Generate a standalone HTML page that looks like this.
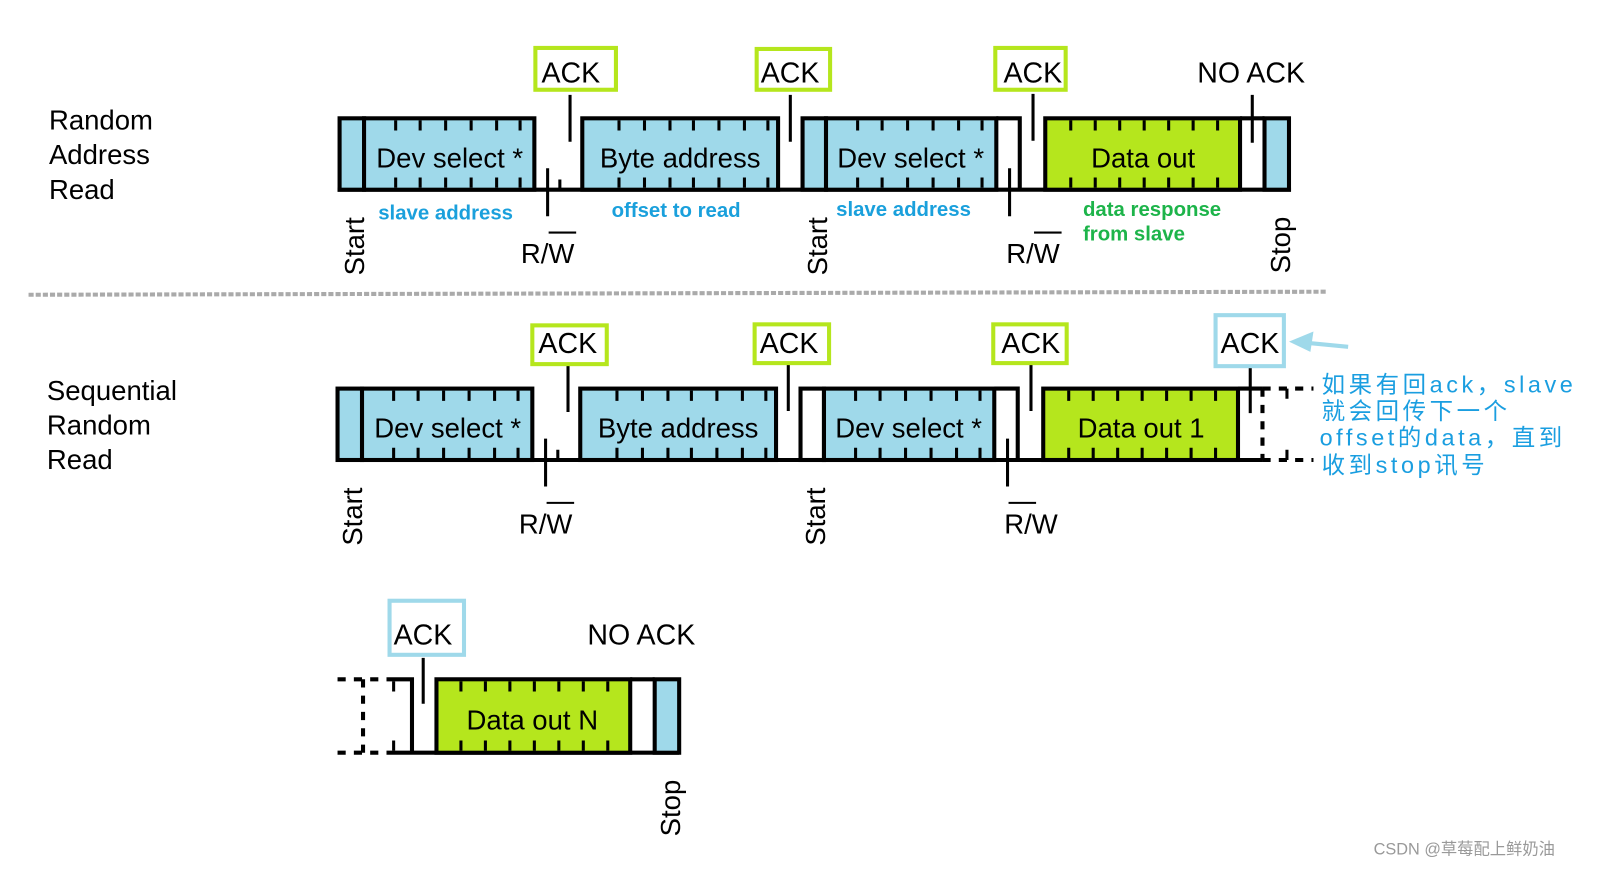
<!DOCTYPE html>
<html><head><meta charset="utf-8"><style>
html,body{margin:0;padding:0;background:#fff;width:1599px;height:869px;overflow:hidden}
svg{display:block}
text{font-family:"Liberation Sans",Arial,sans-serif}
</style></head><body>
<svg width="1599" height="869" viewBox="0 0 1568 852" preserveAspectRatio="none" xmlns="http://www.w3.org/2000/svg">
<!-- ROW 1 -->
<g stroke="#000" stroke-width="4" fill="none">
<line x1="331" y1="186" x2="1266" y2="186"/>
<rect x="333" y="116" width="24" height="70" fill="#9fd9ea"/>
<rect x="357" y="116" width="167" height="70" fill="#9fd9ea"/>
<rect x="571" y="116" width="192" height="70" fill="#9fd9ea"/>
<rect x="787" y="116" width="23" height="70" fill="#9fd9ea"/>
<rect x="810" y="116" width="167" height="70" fill="#9fd9ea"/>
<polyline points="977,116 1000,116 1000,186"/>
<rect x="1025" y="116" width="191" height="70" fill="#b5e61d"/>
<line x1="1216" y1="116" x2="1240" y2="116"/>
<rect x="1240" y="116" width="24" height="70" fill="#9fd9ea"/>
</g>
<g stroke="#000" stroke-width="3">
<path d="M388 118v10M412 118v10M437 118v10M462 118v10M487 118v10M510 118v10M388 184v-10M412 184v-10M437 184v-10M462 184v-10M487 184v-10M510 184v-10"/>
<path d="M607 118v10M632 118v10M657 118v10M680 118v10M705 118v10M730 118v10M753 118v10M607 184v-10M632 184v-10M657 184v-10M680 184v-10M705 184v-10M730 184v-10M753 184v-10"/>
<path d="M841 118v10M865 118v10M890 118v10M915 118v10M940 118v10M963 118v10M841 184v-10M865 184v-10M890 184v-10M915 184v-10M940 184v-10M963 184v-10"/>
<path d="M1050 118v10M1074 118v10M1098 118v10M1122 118v10M1146 118v10M1170 118v10M1194 118v10M1050 184v-10M1074 184v-10M1098 184v-10M1122 184v-10M1146 184v-10M1170 184v-10M1194 184v-10"/>
<path d="M537 165v47M549 186v-10M559 93v46M775 93v46M1013 92v46M1228 93v47M990 165v47"/>
</g>
<g stroke="#b5e61d" stroke-width="4" fill="#fff">
<rect x="525" y="47" width="79" height="41"/>
<rect x="742" y="48" width="72" height="40"/>
<rect x="976" y="47" width="69" height="41"/>
</g>
<g font-size="28" fill="#000">
<text x="531" y="81">ACK</text><text x="746" y="81">ACK</text><text x="984" y="81">ACK</text>
<text x="1174" y="81">NO ACK</text>
</g>
<g font-size="27" fill="#000">
<text x="48" y="127">Random</text><text x="48" y="161">Address</text><text x="48" y="195">Read</text>
</g>
<g font-size="27" text-anchor="middle">
<text x="441" y="164">Dev select *</text>
<text x="667" y="164">Byte address</text>
<text x="893" y="164">Dev select *</text>
<text x="1121" y="164">Data out</text>
</g>
<g font-size="27">
<text x="537" y="258" text-anchor="middle">R/W</text>
<text x="1013" y="258" text-anchor="middle">R/W</text>
<text transform="translate(357,270) rotate(-90)">Start</text>
<text transform="translate(811,270) rotate(-90)">Start</text>
<text transform="translate(1265,268) rotate(-90)">Stop</text>
</g>
<path d="M538 228h27M1014 228h27" stroke="#000" stroke-width="2"/>
<g font-size="20" font-weight="bold">
<text x="437" y="215" fill="#1aa0dc" text-anchor="middle" font-family="'DejaVu Sans',sans-serif">slave address</text>
<text x="663" y="213" fill="#1aa0dc" text-anchor="middle" font-family="'DejaVu Sans',sans-serif">offset to read</text>
<text x="886" y="212" fill="#1aa0dc" text-anchor="middle" font-family="'DejaVu Sans',sans-serif">slave address</text>
<text x="1062" y="212" fill="#1db44a" font-family="'DejaVu Sans',sans-serif">data response</text>
<text x="1062" y="236" fill="#1db44a" font-family="'DejaVu Sans',sans-serif">from slave</text>
</g>
<line x1="28" y1="289" x2="1302" y2="286" stroke="#aaa" stroke-width="4" stroke-dasharray="5,2"/>

<!-- ROW 2 -->
<g stroke="#000" stroke-width="4" fill="none">
<line x1="329" y1="451" x2="1238" y2="451"/>
<rect x="331" y="381" width="24" height="70" fill="#9fd9ea"/>
<rect x="355" y="381" width="167" height="70" fill="#9fd9ea"/>
<rect x="569" y="381" width="192" height="70" fill="#9fd9ea"/>
<rect x="785" y="381" width="23" height="70" fill="#fff"/>
<rect x="808" y="381" width="167" height="70" fill="#9fd9ea"/>
<polyline points="975,381 998,381 998,451"/>
<rect x="1023" y="381" width="191" height="70" fill="#b5e61d"/>
<line x1="1214" y1="381" x2="1238" y2="381"/>
<g stroke-dasharray="8,8"><line x1="1238" y1="381" x2="1288" y2="381"/><line x1="1238" y1="451" x2="1288" y2="451"/><line x1="1238" y1="381" x2="1238" y2="451"/></g>
</g>
<g stroke="#000" stroke-width="3">
<path d="M386 383v10M410 383v10M435 383v10M460 383v10M485 383v10M508 383v10M386 449v-10M410 449v-10M435 449v-10M460 449v-10M485 449v-10M508 449v-10"/>
<path d="M605 383v10M630 383v10M655 383v10M678 383v10M703 383v10M728 383v10M751 383v10M605 449v-10M630 449v-10M655 449v-10M678 449v-10M703 449v-10M728 449v-10M751 449v-10"/>
<path d="M839 383v10M863 383v10M888 383v10M913 383v10M938 383v10M961 383v10M839 449v-10M863 449v-10M888 449v-10M913 449v-10M938 449v-10M961 449v-10"/>
<path d="M1048 383v10M1072 383v10M1096 383v10M1120 383v10M1144 383v10M1168 383v10M1192 383v10M1048 449v-10M1072 449v-10M1096 449v-10M1120 449v-10M1144 449v-10M1168 449v-10M1192 449v-10"/>
<path d="M535 430v47M547 451v-10M557 358v46M773 357v46M1011 357v46M1226 360v45M988 430v47"/>
<path d="M1262 381v10M1262 451v-10"/>
</g>
<g stroke="#b5e61d" stroke-width="4" fill="#fff">
<rect x="522" y="319" width="73" height="38"/>
<rect x="740" y="318" width="73" height="38"/>
<rect x="974" y="318" width="72" height="38"/>
</g>
<rect x="1192" y="309" width="67" height="50" stroke="#9fd9ea" stroke-width="4" fill="#fff"/>
<g font-size="28">
<text x="528" y="346">ACK</text><text x="745" y="346">ACK</text><text x="982" y="346">ACK</text><text x="1197" y="346">ACK</text>
</g>
<g font-size="27">
<text x="46" y="392">Sequential</text><text x="46" y="426">Random</text><text x="46" y="460">Read</text>
</g>
<g font-size="27" text-anchor="middle">
<text x="439" y="429">Dev select *</text>
<text x="665" y="429">Byte address</text>
<text x="891" y="429">Dev select *</text>
<text x="1119" y="429">Data out 1</text>
</g>
<g font-size="27">
<text x="535" y="523" text-anchor="middle">R/W</text>
<text x="1011" y="523" text-anchor="middle">R/W</text>
<text transform="translate(355,535) rotate(-90)">Start</text>
<text transform="translate(809,535) rotate(-90)">Start</text>
</g>
<path d="M536 493h27M989 493h27" stroke="#000" stroke-width="2"/>
<path d="M1322 340L1280 336" stroke="#9fd9ea" stroke-width="4"/>
<path d="M1264 335L1288 325L1285 345Z" fill="#9fd9ea"/>
<g font-size="23" fill="#1a9ee0" font-family="'Liberation Mono','Noto Serif CJK SC',monospace" letter-spacing="3.5">
<text x="1296" y="385">如果有回ack，slave</text>
<text x="1296" y="411">就会回传下一个</text>
<text x="1294" y="437">offset的data，直到</text>
<text x="1296" y="464">收到stop讯号</text>
</g>

<!-- ROW 3 -->
<g stroke="#000" stroke-width="4" fill="none">
<g stroke-dasharray="8,8"><line x1="331" y1="666" x2="380" y2="666"/><line x1="331" y1="738" x2="380" y2="738"/><line x1="356" y1="666" x2="356" y2="738"/></g>
<polyline points="380,666 404,666 404,738"/>
<line x1="380" y1="738" x2="666" y2="738"/>
<rect x="428" y="666" width="190" height="72" fill="#b5e61d"/>
<line x1="618" y1="666" x2="642" y2="666"/>
<rect x="642" y="666" width="24" height="72" fill="#9fd9ea"/>
</g>
<g stroke="#000" stroke-width="3">
<path d="M386 668v10M386 736v-10M452 668v10M476 668v10M500 668v10M524 668v10M548 668v10M572 668v10M596 668v10M452 736v-10M476 736v-10M500 736v-10M524 736v-10M548 736v-10M572 736v-10M596 736v-10M415 645v45"/>
</g>
<rect x="382" y="589" width="73" height="53" stroke="#9fd9ea" stroke-width="4" fill="#fff"/>
<g font-size="28">
<text x="386" y="632">ACK</text><text x="576" y="632">NO ACK</text>
</g>
<text x="522" y="715" text-anchor="middle" font-size="27">Data out N</text>
<text transform="translate(667,820) rotate(-90)" font-size="27">Stop</text>
<text x="1347" y="838" font-size="16" fill="#999" font-family="'Liberation Sans','Noto Sans CJK SC',sans-serif">CSDN @草莓配上鲜奶油</text>
</svg>
</body></html>
